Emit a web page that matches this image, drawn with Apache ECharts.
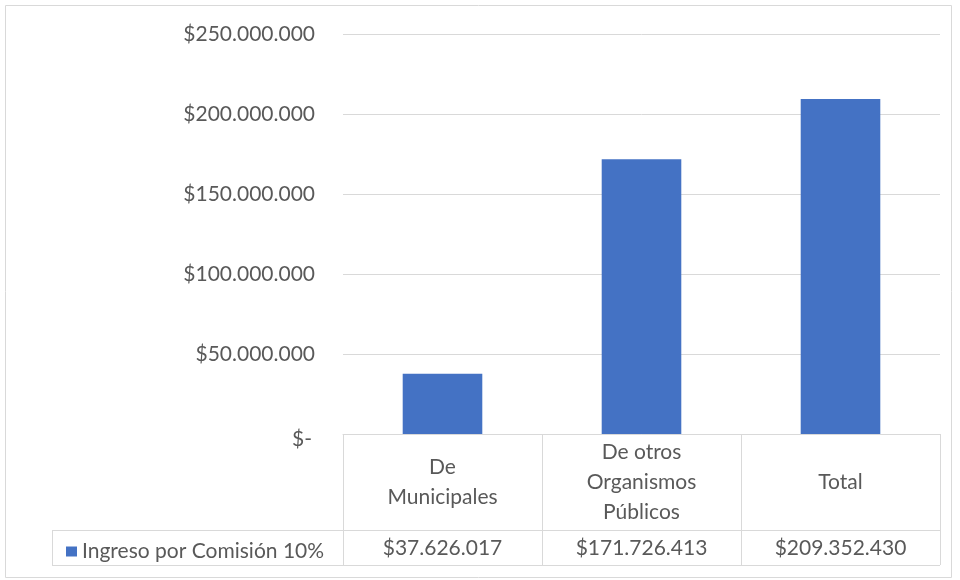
<!DOCTYPE html>
<html>
<head>
<meta charset="utf-8">
<script src="https://cdn.jsdelivr.net/npm/echarts@6/dist/echarts.min.js"></script>
<style>html,body{margin:0;padding:0;background:#fff}#c{width:960px;height:580px}</style>
</head>
<body>
<div id="c"></div>
<script>
const categories = ['De\nMunicipales', 'De otros\nOrganismos\nPúblicos', 'Total'];
const seriesName = 'Ingreso por Comisión 10%';
const values = [37626017, 171726413, 209352430];
const yTicks = [0, 50000000, 100000000, 150000000, 200000000, 250000000];

function fmt(v) {
  if (v === 0) return '$-';
  return '$' + String(v).replace(/\B(?=(\d{3})+(?!\d))/g, '.');
}

const FONT = 'Lato';
const FS = 21;
const TXT = '#595959';
const GRID = { left: 343, right: 20, top: 34, bottom: 146 };
const LINE = '#d9d9d9';

const chart = echarts.init(document.getElementById('c'), null, { renderer: 'canvas' });
chart.setOption({
  animation: false,
  textStyle: { fontFamily: FONT },
  grid: GRID,
  legend: {
    data: [seriesName],
    left: 61, top: 536,
    icon: 'rect', itemWidth: 11, itemHeight: 10, itemGap: 8,
    textStyle: { fontFamily: FONT, fontSize: FS, color: TXT },
    selectedMode: false
  },
  xAxis: [{
    type: 'category',
    data: categories,
    boundaryGap: true,
    axisLine: { show: true, lineStyle: { color: LINE, width: 1 } },
    axisTick: { show: true, interval: 0, length: 131, lineStyle: { color: LINE } },
    axisLabel: {
      interval: 0, margin: 48, verticalAlign: 'middle',
      fontFamily: FONT, fontSize: FS, lineHeight: 30, color: TXT
    }
  }, {
    type: 'category',
    data: categories,
    position: 'bottom',
    axisLine: { show: false },
    axisTick: { show: false },
    axisLabel: {
      interval: 0, margin: 114, verticalAlign: 'middle',
      fontFamily: FONT, fontSize: FS, color: TXT,
      formatter: (v, i) => fmt(values[i])
    }
  }],
  yAxis: {
    type: 'value',
    min: yTicks[0], max: yTicks[yTicks.length - 1], interval: yTicks[1] - yTicks[0],
    axisLine: { show: false },
    axisTick: { show: false },
    splitLine: { lineStyle: { color: LINE, width: 1 } },
    axisLabel: {
      margin: 28, fontFamily: FONT, fontSize: FS, color: TXT,
      formatter: v => v === 0 ? '{z|$-}' : fmt(v),
      rich: { z: { fontFamily: FONT, fontSize: FS, color: TXT, padding: [10, 3, 0, 0] } }
    }
  },
  series: [{
    name: seriesName,
    type: 'bar',
    data: values,
    barWidth: '40%',
    itemStyle: { color: '#4472C4' }
  }],
  graphic: [
    { type: 'rect', shape: { x: 5.5, y: 5.5, width: 946, height: 572 }, style: { fill: 'none', stroke: LINE, lineWidth: 1 }, silent: true },
    { type: 'line', shape: { x1: 52, y1: 530.5, x2: 940, y2: 530.5 }, style: { stroke: LINE, lineWidth: 1 }, silent: true },
    { type: 'line', shape: { x1: 52, y1: 565.5, x2: 940, y2: 565.5 }, style: { stroke: LINE, lineWidth: 1 }, silent: true },
    { type: 'line', shape: { x1: 52.5, y1: 530, x2: 52.5, y2: 566 }, style: { stroke: LINE, lineWidth: 1 }, silent: true }
  ]
});
</script>
</body>
</html>
